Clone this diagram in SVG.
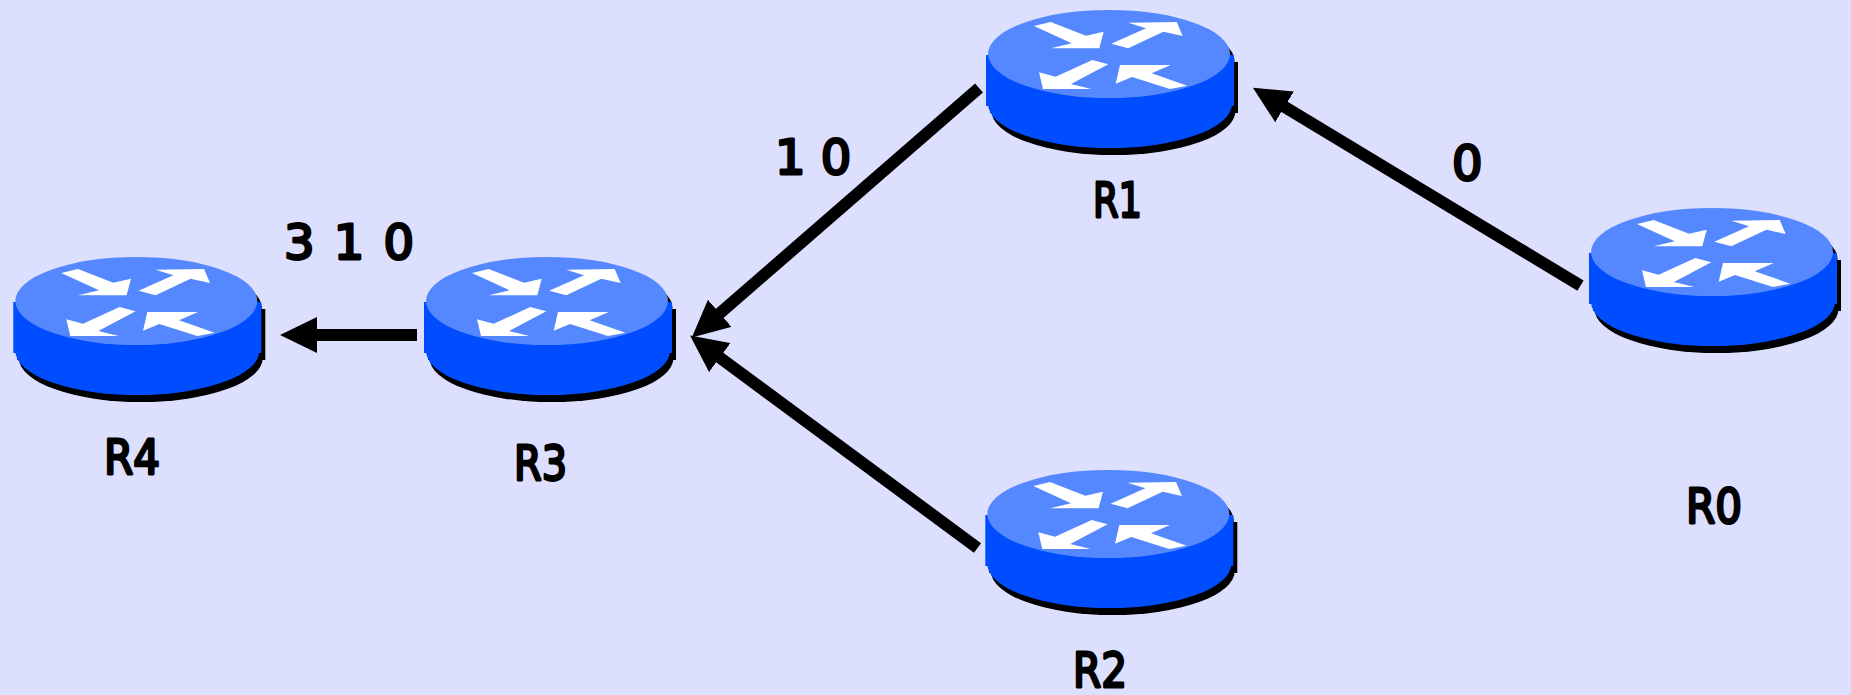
<svg xmlns="http://www.w3.org/2000/svg" width="1851" height="695" viewBox="0 0 1851 695">
<style>
.lbl{font-family:"DejaVu Sans",sans-serif;font-size:48px;fill:#000;stroke:#000;stroke-width:2.800px;stroke-linejoin:round}
.link{stroke:#000;stroke-width:12;fill:none;marker-end:url(#head)}
.arr{fill:#fff}
</style>
<defs>
<marker id="head" markerUnits="userSpaceOnUse" markerWidth="37" markerHeight="36" refX="1" refY="18" orient="auto"><path d="M0,0L37,18L0,36Z" fill="#000"/></marker>
<g id="router">
<g fill="#000"><ellipse cx="143.500" cy="61" rx="121" ry="44"/><rect x="20" y="62" width="248" height="51"/><ellipse cx="143.500" cy="111" rx="122" ry="44"/></g>
<g fill="#004dff"><rect x="16" y="55" width="248" height="51"/><ellipse cx="140" cy="104" rx="122" ry="44"/></g>
<ellipse cx="139" cy="54" rx="121" ry="44" fill="#5588ff"/>
<g class="arr">
<polygon points="64,26 80.700,22 116,35.700 133.700,31.700 129.300,48.300 81,48.300 101.700,43.300"/>
<polygon points="141.300,43.700 176,28.300 158.300,22.700 206.700,22 212.700,36 193.300,31.700 158.300,48.300"/>
<polygon points="138.300,64.300 122.300,60 85.700,76.700 69,72.300 73,89 121.300,89 101,84"/>
<polygon points="145.700,83.700 162,77 200,89 217.300,85.700 181.700,73.300 200.700,65 150,65"/>
</g>
</g>
</defs>
<rect width="1851" height="695" fill="#dddfff"/>
<g id="R0"><use href="#router" transform="translate(1573,198)"/><text class="lbl" x="1686" y="523" textLength="56" lengthAdjust="spacingAndGlyphs">R0</text></g>
<g id="R1"><use href="#router" transform="translate(970,0)"/><text class="lbl" x="1093" y="217" textLength="49" lengthAdjust="spacingAndGlyphs">R1</text></g>
<g id="R2"><use href="#router" transform="translate(969.300,460)"/><text class="lbl" x="1073" y="687" textLength="54" lengthAdjust="spacingAndGlyphs">R2</text></g>
<g id="R3"><use href="#router" transform="translate(408,247)"/><text class="lbl" x="514" y="480" textLength="53" lengthAdjust="spacingAndGlyphs">R3</text></g>
<g id="R4"><use href="#router" transform="translate(-2.700,247)"/><text class="lbl" x="104" y="474" textLength="56" lengthAdjust="spacingAndGlyphs">R4</text></g>
<g id="connectors">
<line class="link" x1="1580.500" y1="285.700" x2="1283.700" y2="106.300"/>
<line class="link" x1="979" y1="88" x2="719" y2="314"/>
<line class="link" x1="977.500" y1="548" x2="719" y2="357"/>
<line class="link" x1="417" y1="335" x2="316" y2="335"/>
</g>
<text class="lbl" x="1452" y="180">0</text>
<text class="lbl" x="775" y="174">1 0</text>
<text class="lbl" x="284" y="259" word-spacing="4">3 1 0</text>
</svg>
